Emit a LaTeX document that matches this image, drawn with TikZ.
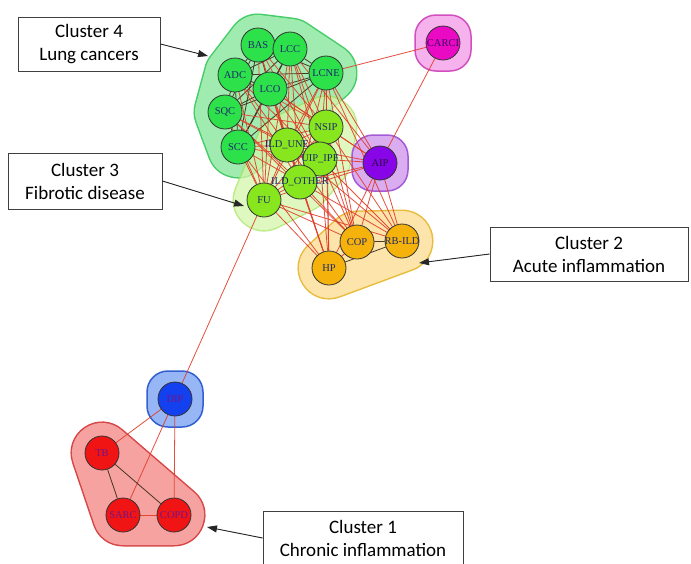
\documentclass[tikz,border=0pt]{standalone}
\usepackage{fontspec}
\setmainfont{Liberation Serif}
\newfontfamily\boxfont{Carlito}
\usetikzlibrary{arrows.meta}

\pgfdeclarelayer{hulls}
\pgfdeclarelayer{edges}
\pgfsetlayers{hulls,edges,main}

% node colours
\definecolor{cfour}{RGB}{45,225,75}
\definecolor{cthree}{RGB}{135,230,30}
\definecolor{ctwo}{RGB}{245,178,10}
\definecolor{caip}{RGB}{135,5,230}
\definecolor{ccarci}{RGB}{235,10,195}
\definecolor{cdip}{RGB}{20,65,240}
\definecolor{cone}{RGB}{240,20,20}
% label colours
\definecolor{txtnavy}{RGB}{30,40,110}
\definecolor{txtpurple}{RGB}{115,20,135}
% hull colours
\definecolor{hfourfill}{RGB}{160,235,175}
\definecolor{hfourline}{RGB}{70,205,105}
\definecolor{hthreefill}{RGB}{212,245,170}
\definecolor{hthreeline}{RGB}{165,228,95}
\definecolor{htwofill}{RGB}{252,228,170}
\definecolor{htwoline}{RGB}{232,188,60}
\definecolor{haipfill}{RGB}{218,172,240}
\definecolor{haipline}{RGB}{165,90,215}
\definecolor{hcarcifill}{RGB}{246,178,236}
\definecolor{hcarciline}{RGB}{210,80,190}
\definecolor{hdipfill}{RGB}{150,182,245}
\definecolor{hdipline}{RGB}{50,95,210}
\definecolor{honefill}{RGB}{245,162,160}
\definecolor{honeline}{RGB}{215,70,70}
% edge colours
\definecolor{edgered}{RGB}{225,60,40}
\definecolor{edgedark}{RGB}{55,40,25}

\tikzset{
  dz/.style={circle, minimum size=34pt, inner sep=0pt, draw=black!80, line width=0.8pt},
  lab/.style={font=\fontsize{10.5}{12}\selectfont, text=txtnavy, inner sep=0pt},
  gfour/.style={dz, fill=cfour},
  gthree/.style={dz, fill=cthree},
  gtwo/.style={dz, fill=ctwo},
  gaip/.style={dz, fill=caip},
  gcarci/.style={dz, fill=ccarci},
  gdip/.style={dz, fill=cdip},
  gone/.style={dz, fill=cone},
  rel/.style={draw=edgered, line width=0.8pt, opacity=0.9},
  tie/.style={draw=edgedark, line width=0.8pt, opacity=0.9},
  hullout/.style={line width=63pt, line join=round, line cap=round},
  hullin/.style={line width=60pt, line join=round, line cap=round},
  solo/.style={rectangle, rounded corners=21pt, minimum size=56pt, line width=1.5pt},
  caption/.style={draw=black!75, fill=white, line width=0.9pt, align=center,
    font=\boxfont\fontsize{19}{23}\selectfont, inner sep=0pt},
  pointer/.style={-{Triangle[length=10pt,width=7pt]}, line width=0.9pt, draw=black!85, fill=black!85}
}

\begin{document}
\begin{tikzpicture}[x=1pt, y=-1pt]
\useasboundingbox (0,0) rectangle (691,563);

% ---- disease nodes ----
% cluster 4: lung cancers
\node[gfour, label={[lab]center:BAS}]  (bas)  at (258,45)  {};
\node[gfour, label={[lab]center:LCC}]  (lcc)  at (290,49)  {};
\node[gfour, label={[lab]center:LCNE}] (lcne) at (326,73)  {};
\node[gfour, label={[lab]center:ADC}]  (adc)  at (235,75)  {};
\node[gfour, label={[lab]center:LCO}]  (lco)  at (270,89)  {};
\node[gfour, label={[lab]center:SQC}]  (sqc)  at (225,112) {};
\node[gfour, label={[lab]center:SCC}]  (scc)  at (238,147) {};
% cluster 3: fibrotic disease
\node[gthree, label={[lab]center:NSIP}]      (nsip)     at (326,127) {};
\node[gthree, label={[lab]center:ILD\_UNE}]  (ildune)   at (287,145) {};
\node[gthree, label={[lab]center:UIP\_IPF}]  (uipipf)   at (320,159) {};
\node[gthree, label={[lab]center:ILD\_OTHER}] (ildother) at (300,182) {};
\node[gthree, label={[lab]center:FU}]        (fu)       at (264,200) {};
% single-node groups
\node[gaip,   label={[lab, text=black!70!caip]center:AIP}]     (aip)   at (380,163) {};
\node[gcarci, label={[lab, text=black!55!caip]center:CARCI}]   (carci) at (443,43)  {};
% cluster 2: acute inflammation
\node[gtwo, label={[lab]center:COP}]    (cop)   at (357,242) {};
\node[gtwo, label={[lab]center:RB-ILD}] (rbild) at (402,241) {};
\node[gtwo, label={[lab]center:HP}]     (hp)    at (329,268) {};
% DIP and cluster 1: chronic inflammation
\node[gdip, label={[lab, text=txtpurple]center:DIP}]  (dip)  at (175,399) {};
\node[gone, label={[lab, text=txtpurple]center:TB}]   (tb)   at (102,453) {};
\node[gone, label={[lab, text=txtpurple]center:SARC}] (sarc) at (123,515) {};
\node[gone, label={[lab, text=txtpurple]center:COPD}] (copd) at (174,515) {};

% ---- cluster hulls ----
\begin{pgfonlayer}{hulls}
  % lung cancers
  \draw[hullout, draw=hfourline] (bas.center) -- (lcc.center) -- (lcne.center) -- (scc.center) -- (sqc.center) -- (adc.center) -- cycle;
  \draw[hullin, draw=hfourfill, fill=hfourfill] (bas.center) -- (lcc.center) -- (lcne.center) -- (scc.center) -- (sqc.center) -- (adc.center) -- cycle;
  % fibrotic disease, partly see-through over the lung cancer hull
  \begin{scope}[transparency group, opacity=0.75]
    \draw[hullout, draw=hthreeline] (nsip.center) -- (uipipf.center) -- (ildother.center) -- (fu.center) -- (ildune.center) -- cycle;
    \draw[hullin, draw=hthreefill, fill=hthreefill] (nsip.center) -- (uipipf.center) -- (ildother.center) -- (fu.center) -- (ildune.center) -- cycle;
  \end{scope}
  % acute inflammation
  \draw[hullout, draw=htwoline] (cop.center) -- (rbild.center) -- (hp.center) -- cycle;
  \draw[hullin, draw=htwofill, fill=htwofill] (cop.center) -- (rbild.center) -- (hp.center) -- cycle;
  % chronic inflammation
  \draw[hullout, draw=honeline] (tb.center) -- (copd.center) -- (sarc.center) -- cycle;
  \draw[hullin, draw=honefill, fill=honefill] (tb.center) -- (copd.center) -- (sarc.center) -- cycle;
  % single-node groups
  \node[solo, draw=haipline, fill=haipfill] (aiphull) at (aip) {};
  \node[solo, draw=hcarciline, fill=hcarcifill] (carcihull) at (carci) {};
  \node[solo, draw=hdipline, fill=hdipfill] (diphull) at (dip) {};
\end{pgfonlayer}

% ---- co-occurrence links ----
\begin{pgfonlayer}{edges}
  % within lung cancers
  \foreach \a/\b in {bas/lcc, bas/lcne, bas/adc, bas/lco, bas/sqc, bas/scc,
                     lcc/lcne, lcc/adc, lcc/lco, lcc/sqc, lcc/scc,
                     lcne/adc, lcne/lco, lcne/sqc, lcne/scc,
                     adc/lco, adc/sqc, adc/scc, lco/sqc, lco/scc, sqc/scc}
    \draw[tie] (\a) -- (\b);
  % lung cancers to fibrotic disease
  \foreach \a in {bas, lcc, lcne, adc, lco, sqc, scc}
    \foreach \b in {nsip, ildune, uipipf, ildother, fu}
      \draw[rel] (\a) -- (\b);
  % within fibrotic disease
  \foreach \a/\b in {nsip/ildune, nsip/uipipf, nsip/ildother, nsip/fu,
                     ildune/uipipf, ildune/ildother, ildune/fu,
                     uipipf/ildother, uipipf/fu, ildother/fu}
    \draw[rel] (\a) -- (\b);
  % fibrotic disease to AIP and acute inflammation
  \foreach \a in {nsip, ildune, uipipf, ildother, fu}
    \foreach \b in {aip, cop, rbild, hp}
      \draw[rel] (\a) -- (\b);
  % further links into AIP and acute inflammation
  \foreach \a/\b in {aip/cop, aip/rbild, aip/hp, hp/cop,
                     lcne/aip, lcc/aip, lco/aip, lcne/cop, lcne/rbild, lcne/hp,
                     lco/hp, lcc/cop, scc/hp, sqc/cop,
                     lcne/carci, carci/aip, fu/dip,
                     dip/tb, dip/sarc, dip/copd, sarc/copd}
    \draw[rel] (\a) -- (\b);
  \foreach \a/\b in {cop/rbild, hp/rbild, tb/sarc, tb/copd}
    \draw[tie] (\a) -- (\b);
\end{pgfonlayer}

% ---- cluster captions ----
\node[caption, minimum width=142pt, minimum height=54pt] (capfour)  at (89,44)   {Cluster 4\\Lung cancers};
\node[caption, minimum width=154pt, minimum height=56pt] (capthree) at (85,181)  {Cluster 3\\Fibrotic disease};
\node[caption, minimum width=198pt, minimum height=54pt] (captwo)   at (589,254) {Cluster 2\\Acute inflammation};
\node[caption, minimum width=200pt, minimum height=54pt] (capone)   at (363,538) {Cluster 1\\Chronic inflammation};

\coordinate (tipfour)  at (208,56);
\coordinate (tipthree) at (244,206);
\coordinate (tiptwo)   at (419,263);
\coordinate (tipone)   at (207,527);
\draw[pointer] (capfour.east)  -- (tipfour);
\draw[pointer] (capthree.east) -- (tipthree);
\draw[pointer] (captwo.west)   -- (tiptwo);
\draw[pointer] (capone.west)   -- (tipone);
\end{tikzpicture}
\end{document}
